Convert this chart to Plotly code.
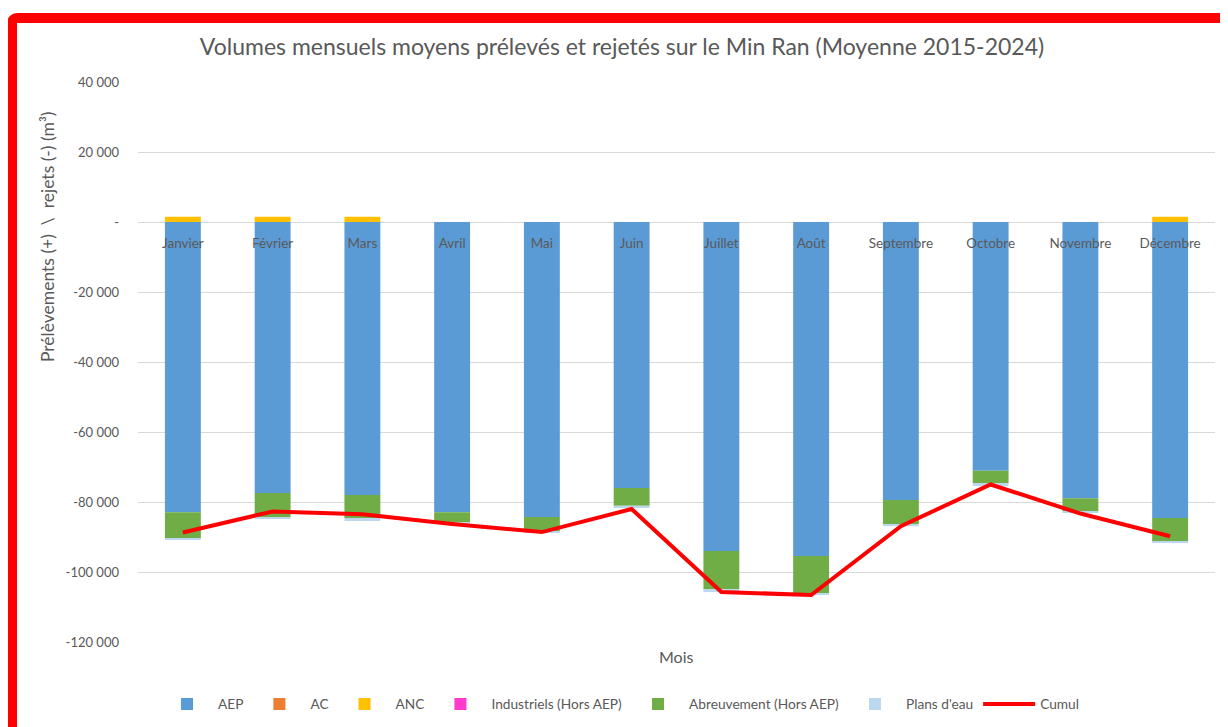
import plotly.graph_objects as go

mois = ["Janvier", "Février", "Mars", "Avril", "Mai", "Juin", "Juillet", "Août",
        "Septembre", "Octobre", "Novembre", "Décembre"]
aep = [-82900, -77400, -78000, -82900, -84300, -76000, -94000, -95400, -79400, -71100, -78900, -84600]
ac = [0] * 12
anc = [1500, 1500, 1500, 0, 0, 0, 0, 0, 0, 0, 0, 1500]
industriels = [0] * 12
abreuvement = [-7400, -6900, -6600, -2800, -4000, -5100, -10900, -10600, -6900, -3500, -3700, -6800]
plans_eau = [-300, -300, -800, -600, -300, -600, -800, -600, -600, -800, -300, -300]
cumul = [-88700, -82700, -83500, -86300, -88600, -82000, -105700, -106600, -86900, -75000, -83300, -89800]

y_ticks = [40000, 20000, 0, -20000, -40000, -60000, -80000, -100000, -120000]
y_ticktext = ["40 000", "20 000", "-", "-20 000", "-40 000", "-60 000", "-80 000", "-100 000", "-120 000"]

FONT = "Lato, 'Open Sans', sans-serif"
GREY = "#595959"

W, H = 1220, 719
L, R, T, B = 130, 13, 74, 85
PW, PH = W - L - R, H - T - B


def px(x):
    return (x - L) / PW


def py(y):
    return (H - B - y) / PH


fig = go.Figure()
series = [
    ("AEP", aep, "#5B9BD5"),
    ("AC", ac, "#ED7D31"),
    ("ANC", anc, "#FFC000"),
    ("Industriels (Hors AEP)", industriels, "#FF3BCF"),
    ("Abreuvement (Hors AEP)", abreuvement, "#70AD47"),
    ("Plans d'eau", plans_eau, "#BDD7EE"),
]
for name, vals, col in series:
    fig.add_trace(go.Bar(x=mois, y=vals, name=name, marker=dict(color=col, line=dict(width=0))))
fig.add_trace(go.Scatter(x=mois, y=cumul, name="Cumul", mode="lines",
                         line=dict(color="#FF0000", width=4)))

ymin, ymax = -120000, 40000
fig.update_layout(
    width=W, height=H,
    barmode="relative", bargap=0.6,
    paper_bgcolor="white", plot_bgcolor="white",
    margin=dict(l=L, r=R, t=T, b=B, autoexpand=False),
    font=dict(family=FONT, color=GREY, size=13),
    title=dict(text="Volumes mensuels moyens prélevés et rejetés sur le Min Ran (Moyenne 2015-2024)",
               xref="container", yref="container",
               x=614 / W, xanchor="center", y=1 - 39 / H, yanchor="middle",
               font=dict(size=23, color=GREY, family=FONT)),
    xaxis=dict(anchor="free", position=(0 - ymin) / (ymax - ymin), showline=False,
               ticks="", ticklabelstandoff=11, tickfont=dict(size=13.5, color=GREY),
               showgrid=False, zeroline=False),
    yaxis=dict(range=[ymin, ymax], tickvals=y_ticks, ticktext=y_ticktext,
               showgrid=True, gridcolor="#D9D9D9", gridwidth=1, zeroline=False,
               ticks="", ticklabelstandoff=18, tickfont=dict(size=13, color=GREY)),
    legend=dict(orientation="h", x=px(612), xanchor="center", y=py(696), yanchor="middle",
                font=dict(size=13.7, color=GREY), traceorder="normal", itemwidth=52),
    showlegend=True,
)
fig.add_annotation(text="Mois", xref="paper", yref="paper", x=px(668), y=py(648),
                   showarrow=False, font=dict(size=16, color=GREY), xanchor="center", yanchor="middle")
fig.add_annotation(text="Prélèvements (+)  \\  rejets (-) (m³)", xref="paper", yref="paper",
                   x=px(39), y=py(229), textangle=-90, showarrow=False,
                   font=dict(size=17.5, color=GREY), xanchor="center", yanchor="middle")

# red rounded frame around the chart
x0, y0 = px(4), py(10)
x1, y1 = px(1250), py(760)
rx, ry = 6 / PW, 6 / PH
path = (f"M {x0},{y1} L {x0},{y0 - ry} Q {x0},{y0} {x0 + rx},{y0} L {x1},{y0}")
fig.add_shape(type="path", path=path, xref="paper", yref="paper",
              line=dict(color="#FF0000", width=10), fillcolor="rgba(0,0,0,0)", layer="above")

fig.write_html("out.html")
